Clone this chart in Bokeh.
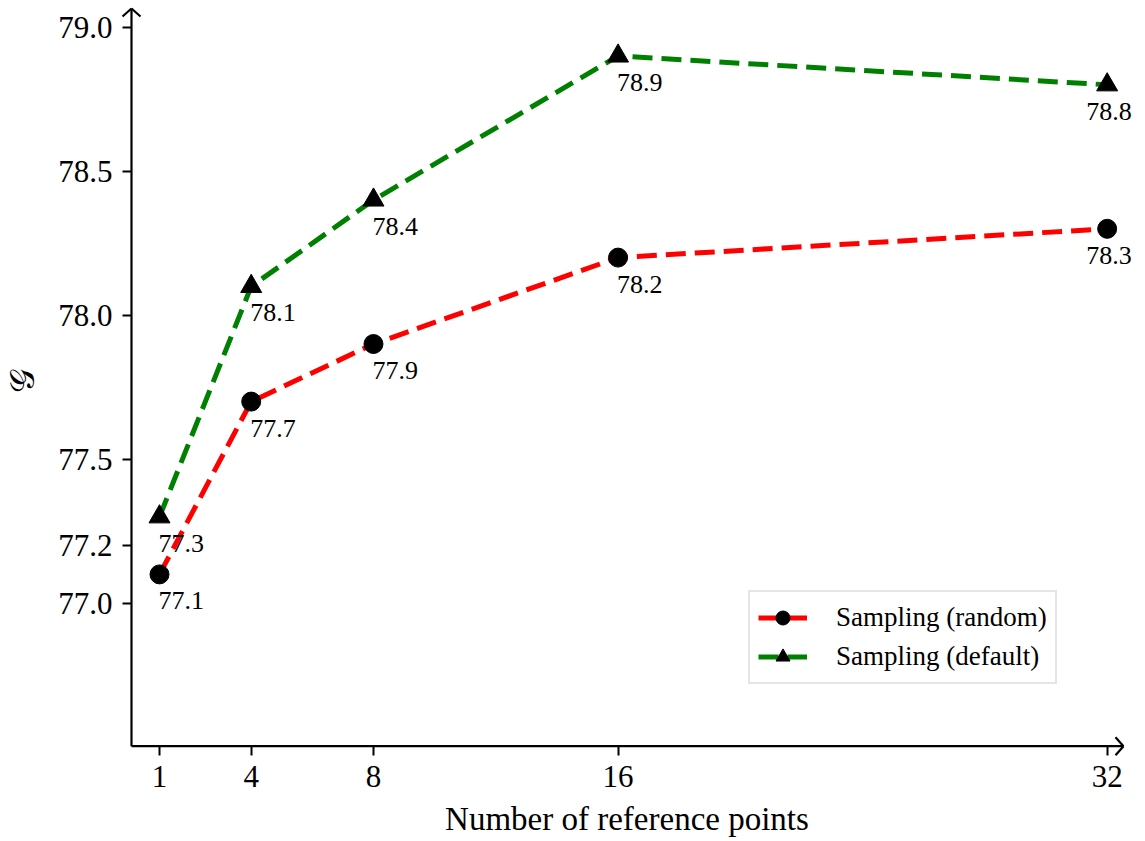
from bokeh.plotting import figure
from bokeh.models import (ColumnDataSource, FixedTicker, NumeralTickFormatter, Range1d,
                          Legend, LegendItem, Arrow, LinearAxis, CustomJSTickFormatter)
from bokeh.core.properties import value
from bokeh.embed import file_html
from bokeh.resources import INLINE

x_vals = [1, 4, 8, 16, 32]
random_vals = [77.1, 77.7, 77.9, 78.2, 78.3]
default_vals = [77.3, 78.1, 78.4, 78.9, 78.8]
y_ticks = [77.0, 77.2, 77.5, 78.0, 78.5, 79.0]
series_names = ["Sampling (random)", "Sampling (default)"]
x_label = "Number of reference points"
y_label = "\U0001D4A2"

FONT = "Liberation Serif"
W, H = 1137, 841
FL, FT, FB = 116, 4, 756          # frame left / top / bottom in page px
ML, MR, MT, MB = FL, 0, FT, H - FB
PX = 30.57          # px per x unit
PY = 288.0          # px per y unit
X0 = 1 - (159 - FL) / PX
X1 = X0 + (W - FL) / PX
Y1 = 79.0 + (26.7 - FT) / PY
Y0 = Y1 - (FB - FT) / PY
XAX = 1 - 28 / PX                 # y-axis position
YAX = 77.0 - 143.0 / PY           # x-axis position
XT = 1 + 964 / PX                 # x-axis arrow tip
YT = 79.0 + 18.7 / PY             # y-axis arrow tip

p = figure(width=W, height=H, output_backend="svg", toolbar_location=None,
           x_range=Range1d(X0, X1), y_range=Range1d(Y0, Y1),
           min_border_left=ML, min_border_right=MR, min_border_top=MT, min_border_bottom=MB)
p.outline_line_color = None
p.grid.visible = False
p.background_fill_color = "white"
p.border_fill_color = "white"

# tick marks drawn at the spine positions
blank = CustomJSTickFormatter(code="return ''")
for ax in (p.xaxis[0], p.yaxis[0]):
    ax.axis_line_color = None
    ax.major_tick_line_width = 2
    ax.major_tick_line_color = "black"
    ax.major_tick_out = 9
    ax.major_tick_in = 0
    ax.minor_tick_line_color = None
    ax.formatter = blank
p.xaxis[0].fixed_location = YAX
p.yaxis[0].fixed_location = XAX
p.xaxis[0].ticker = FixedTicker(ticks=x_vals)
p.yaxis[0].ticker = FixedTicker(ticks=y_ticks)

# label axes in the side panels
xl = LinearAxis(ticker=FixedTicker(ticks=x_vals), axis_label=x_label)
yl = LinearAxis(ticker=FixedTicker(ticks=y_ticks), axis_label=y_label,
                formatter=NumeralTickFormatter(format="0.0"))
for ax in (xl, yl):
    ax.axis_line_color = None
    ax.major_tick_line_color = None
    ax.minor_tick_line_color = None
    ax.major_tick_out = 0
    ax.major_tick_in = 0
    ax.major_label_text_font = FONT
    ax.major_label_text_font_size = "31px"
    ax.major_label_text_color = "black"
    ax.axis_label_text_font = FONT
    ax.axis_label_text_font_style = "normal"
    ax.axis_label_text_color = "black"
xl.major_label_standoff = 9
xl.axis_label_text_font_size = "33px"
xl.axis_label_standoff = 11
yl.major_label_standoff = 4
yl.axis_label_text_font_size = "34px"
yl.axis_label_standoff = 14
p.add_layout(xl, "below")
p.add_layout(yl, "left")

# axis lines with open arrowheads (pixel-sized decoration)
for xs, ys, xe, ye in [
    (XAX, YAX, XAX, YT), (XAX, YAX, XT, YAX),
    (XAX - 9 / PX, YT - 8 / PY, XAX, YT), (XAX + 9 / PX, YT - 8 / PY, XAX, YT),
    (XT - 8 / PX, YAX + 9 / PY, XT, YAX), (XT - 8 / PX, YAX - 9 / PY, XT, YAX)]:
    p.add_layout(Arrow(x_start=xs, y_start=ys, x_end=xe, y_end=ye, end=None,
                       line_width=2.2, line_color="black"))

xmax = max(x_vals)
offs = [-21 if v == xmax else -1 for v in x_vals]
src_r = ColumnDataSource(dict(x=x_vals, y=random_vals, o=offs,
                              t=[f"{v:.1f}" for v in random_vals]))
src_d = ColumnDataSource(dict(x=x_vals, y=default_vals, o=offs,
                              t=[f"{v:.1f}" for v in default_vals]))

lr = p.line("x", "y", source=src_r, line_color="#ff0000", line_width=5, line_dash="20 9")
ld = p.line("x", "y", source=src_d, line_color="#008000", line_width=5, line_dash="20 9")
mr = p.scatter("x", "y", source=src_r, marker="circle", size=19, fill_color="black", line_color="black")
md = p.scatter("x", "y", source=src_d, marker="triangle", size=21, fill_color="black", line_color="black")

for src in (src_r, src_d):
    p.text("x", "y", text="t", source=src, text_font=value(FONT), text_font_size="26px",
           text_baseline="top", text_align="left", x_offset="o", y_offset=18, text_color="black")

legend = Legend(items=[LegendItem(label=series_names[0], renderers=[lr, mr]),
                       LegendItem(label=series_names[1], renderers=[ld, md])],
                location=(748 - FL, FB - 684))
legend.label_text_font = FONT
legend.label_text_font_size = "27px"
legend.label_text_color = "black"
legend.glyph_width = 49
legend.glyph_height = 35
legend.label_height = 35
legend.label_standoff = 29
legend.spacing = 4
legend.padding = 8
legend.margin = 0
legend.border_line_color = "#cccccc"
legend.border_line_width = 2
legend.background_fill_alpha = 1
p.add_layout(legend)

open("out.html", "w").write(file_html(p, INLINE))
